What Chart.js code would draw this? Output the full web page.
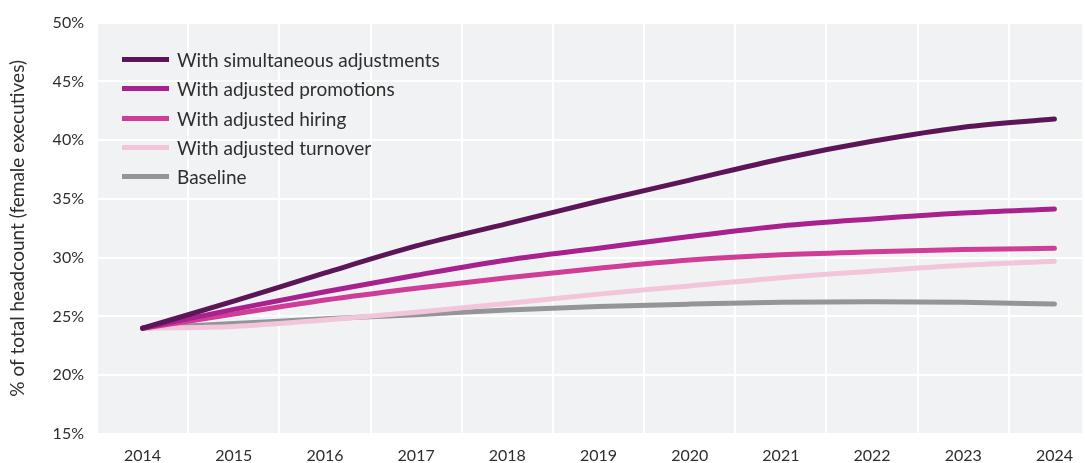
<!DOCTYPE html>
<html>
<head>
<meta charset="utf-8">
<script src="https://cdn.jsdelivr.net/npm/chart.js@4/dist/chart.umd.min.js"></script>
<style>
    html, body { margin: 0; padding: 0; background: #ffffff; overflow: hidden; }
    #wrap { position: relative; width: 1085px; height: 463px; }
    #legend { position: absolute; left: 122px; top: 45px; font-family: Lato, sans-serif; font-size: 19px; color: #2e2e2e; }
    .fila { display: flex; align-items: center; height: 29.3px; }
    .muestra { width: 47px; height: 5px; margin-right: 8px; }
</style>
</head>
<body>
<div id="wrap">
    <canvas id="grafica" width="1085" height="463"></canvas>
    <div id="legend"></div>
</div>
<script>
const anios = [2014, 2015, 2016, 2017, 2018, 2019, 2020, 2021, 2022, 2023, 2024];

const simultaneos = [24.0, 26.3, 28.7, 31.0, 32.9, 34.8, 36.6, 38.4, 39.9, 41.1, 41.8];
const promociones = [24.0, 25.6, 27.1, 28.5, 29.8, 30.8, 31.8, 32.7, 33.3, 33.8, 34.15];
const contratacion = [24.0, 25.2, 26.4, 27.4, 28.3, 29.1, 29.8, 30.25, 30.5, 30.7, 30.8];
const rotacion = [24.0, 24.15, 24.7, 25.35, 26.1, 26.9, 27.6, 28.3, 28.85, 29.35, 29.7];
const base = [24.0, 24.4, 24.8, 25.15, 25.55, 25.85, 26.05, 26.2, 26.25, 26.2, 26.05];

const etiquetas = ['With simultaneous adjustments', 'With adjusted promotions', 'With adjusted hiring', 'With adjusted turnover', 'Baseline'];
const colores = ['#5c1657', '#a8218e', '#d03d96', '#f3c5db', '#939598'];
const series = [simultaneos, promociones, contratacion, rotacion, base];

const tickY = [15, 20, 25, 30, 35, 40, 45, 50];

// fondo gris del area de la grafica
const fondo = {
    id: 'fondo',
    beforeDraw(chart) {
        const a = chart.chartArea;
        const ctx = chart.ctx;
        ctx.save();
        ctx.fillStyle = '#f1f2f4';
        ctx.fillRect(a.left, a.top, a.right - a.left, a.bottom - a.top);
        ctx.restore();
    }
};

const datasets = series.map((valores, i) => ({
    label: etiquetas[i],
    data: valores.map((v, j) => ({ x: anios[j], y: v })),
    borderColor: colores[i],
    backgroundColor: colores[i],
    borderWidth: 5,
    borderCapStyle: 'round',
    pointRadius: 0,
    cubicInterpolationMode: 'monotone',
    fill: false
}));

const ctx = document.getElementById('grafica').getContext('2d');
new Chart(ctx, {
    type: 'line',
    data: { datasets: datasets },
    options: {
        responsive: false,
        animation: false,
        clip: false,
        layout: { padding: { top: 18, right: 0, bottom: 0, left: 0 } },
        plugins: {
            legend: { display: false },
            tooltip: { enabled: false }
        },
        scales: {
            x: {
                type: 'linear',
                min: 2013.5,
                max: 2024.306,
                border: { display: false },
                afterBuildTicks: (scale) => {
                    const t = [];
                    for (let v = 2013.5; v <= 2024.3; v += 0.5) t.push({ value: v });
                    scale.ticks = t;
                },
                afterFit: (scale) => { scale.height = 29; },
                grid: {
                    drawTicks: false,
                    lineWidth: 2,
                    color: (c) => (c.tick && c.tick.value % 1 !== 0) ? '#ffffff' : 'rgba(0,0,0,0)'
                },
                ticks: {
                    autoSkip: false,
                    maxRotation: 0,
                    padding: 12,
                    color: '#2e2e2e',
                    font: { family: 'Lato', size: 16 },
                    callback: (v) => (v % 1 === 0) ? String(v) : ''
                }
            },
            y: {
                min: 15,
                max: 50,
                border: { display: false },
                afterBuildTicks: (scale) => { scale.ticks = tickY.map(v => ({ value: v })); },
                afterFit: (scale) => { scale.width = 97; },
                grid: { drawTicks: false, lineWidth: 2, color: '#ffffff' },
                ticks: {
                    padding: 13,
                    color: '#2e2e2e',
                    font: { family: 'Lato', size: 16 },
                    callback: (v) => v + '%'
                },
                title: {
                    display: true,
                    text: '% of total headcount (female executives)',
                    color: '#2e2e2e',
                    font: { family: 'Lato', size: 19 },
                    padding: { top: 6, bottom: 0 }
                }
            }
        }
    },
    plugins: [fondo]
});

// leyenda dentro del area
const leyenda = document.getElementById('legend');
etiquetas.forEach((et, i) => {
    const fila = document.createElement('div');
    fila.className = 'fila';
    const m = document.createElement('span');
    m.className = 'muestra';
    m.style.background = colores[i];
    const t = document.createElement('span');
    t.textContent = et;
    fila.appendChild(m);
    fila.appendChild(t);
    leyenda.appendChild(fila);
});
</script>
</body>
</html>
